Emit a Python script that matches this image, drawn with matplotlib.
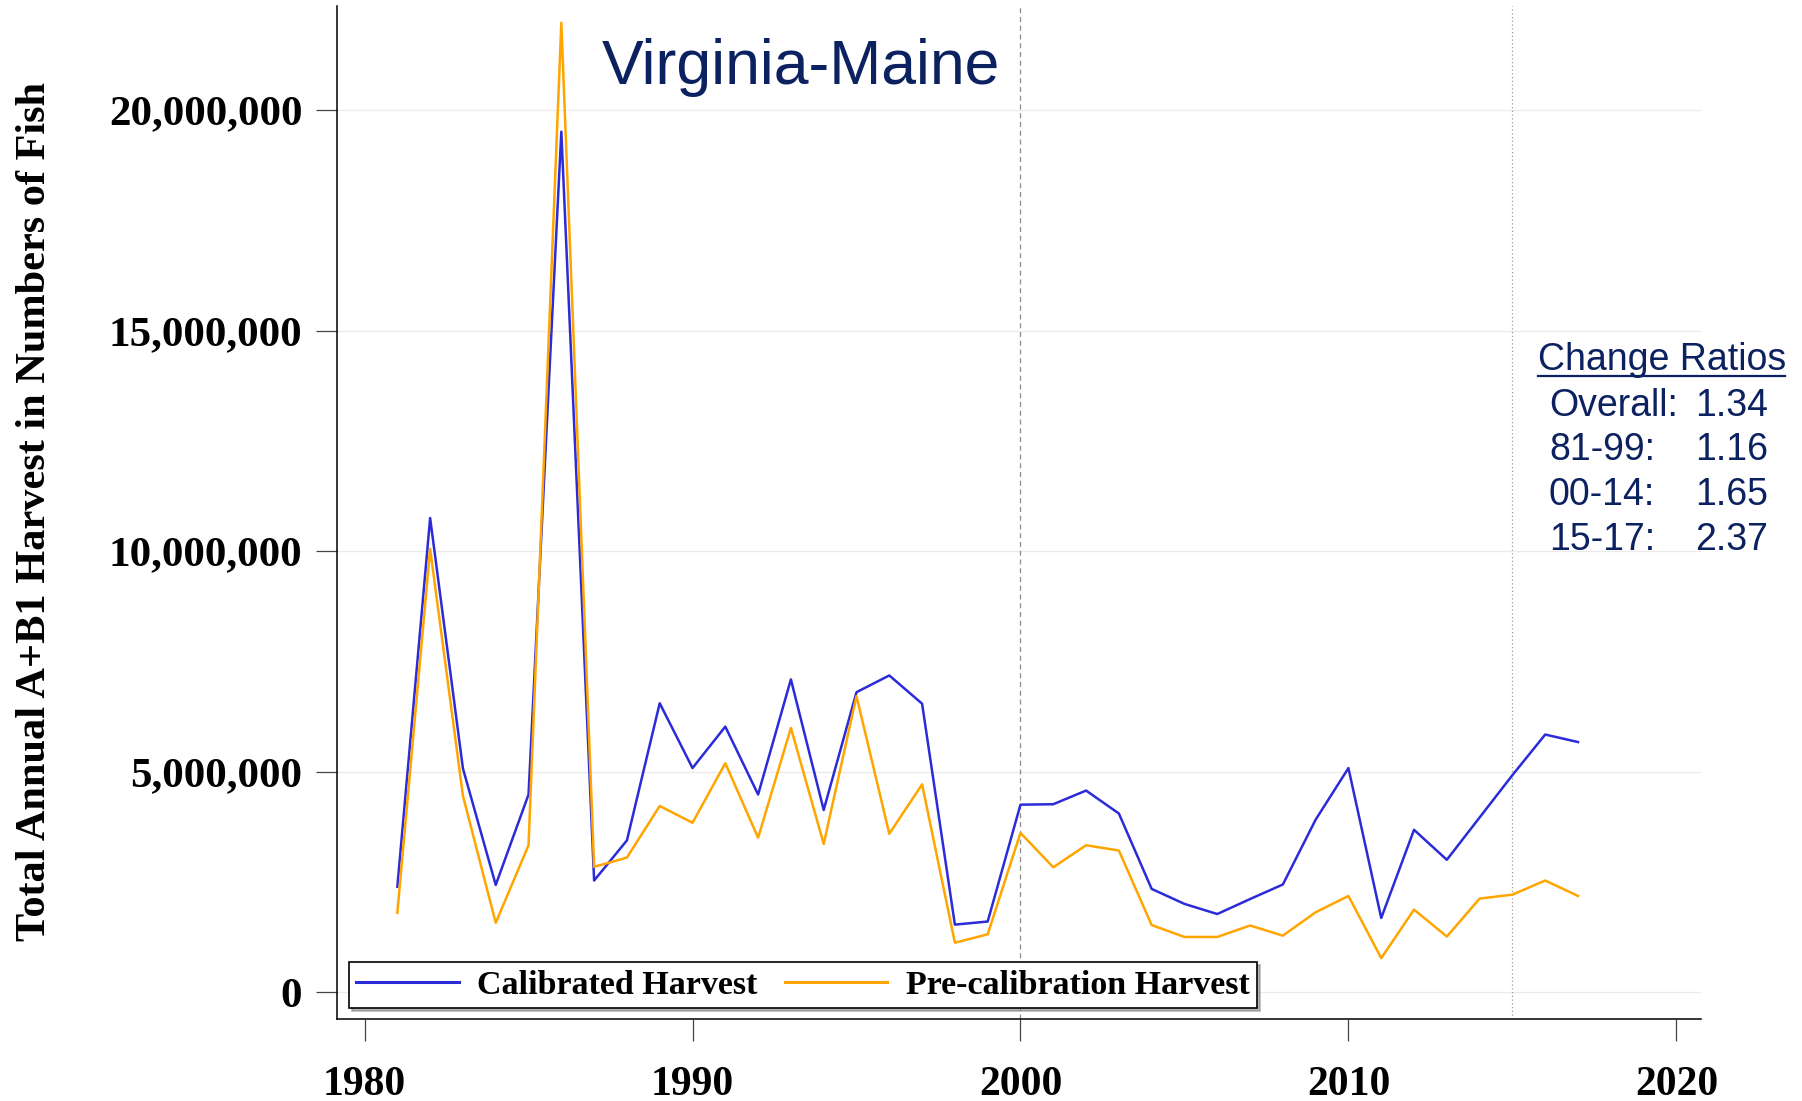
import numpy as np
import matplotlib
matplotlib.use("Agg")
import matplotlib.pyplot as plt
from matplotlib import font_manager
from matplotlib.ticker import FuncFormatter

# data (in millions of fish)
years = list(range(1981, 2018))
calibrated = [2.39, 10.75, 5.07, 2.43, 4.48, 19.51, 2.53, 3.44, 6.55, 5.08,
              6.02, 4.48, 7.09, 4.13, 6.80, 7.18, 6.54, 1.53, 1.60, 4.25,
              4.26, 4.57, 4.05, 2.34, 2.00, 1.77, 2.11, 2.44, 3.91, 5.08,
              1.68, 3.68, 3.00, 3.96, 4.92, 5.84, 5.67]
pre_calibration = [1.80, 10.05, 4.45, 1.57, 3.33, 21.98, 2.84, 3.05, 4.22, 3.84,
                   5.19, 3.50, 5.99, 3.36, 6.71, 3.59, 4.71, 1.12, 1.31, 3.61,
                   2.83, 3.33, 3.21, 1.52, 1.25, 1.25, 1.51, 1.28, 1.81, 2.18,
                   0.77, 1.87, 1.26, 2.12, 2.21, 2.53, 2.18]
series_names = ["Calibrated Harvest", "Pre-calibration Harvest"]
period_breaks = [2000, 2015]
ratio_labels = ["Overall:", "81-99:", "00-14:", "15-17:"]
ratio_values = ["1.34", "1.16", "1.65", "2.37"]
x_ticks = [1980, 1990, 2000, 2010, 2020]
y_ticks = [0, 5e6, 10e6, 15e6, 20e6]

navy = "#0b2160"
blue = "#2b2bd9"
orange = "#ffa500"
serif = ["Liberation Serif", "DejaVu Serif"]

# narrow sans for the region title if it is there
try:
    font_manager.findfont("Liberation Sans Narrow", fallback_to_default=False)
    title_font, title_size = "Liberation Sans Narrow", 52
except ValueError:
    title_font, title_size = "Liberation Sans", 45

W, H = 1802, 1101
fig = plt.figure(figsize=(W / 100, H / 100), dpi=100)
ax = fig.add_axes([337 / W, 1 - 1019 / H, (1701 - 337) / W, (1019 - 6) / H])

cal = np.array(calibrated) * 1e6
pre = np.array(pre_calibration) * 1e6

ax.plot(years, cal, color=blue, lw=1.8, label=series_names[0], zorder=3)
ax.plot(years, pre, color=orange, lw=1.8, label=series_names[1], zorder=3)

ax.axvline(period_breaks[0], color="#8c8c8c", lw=0.9, ls=(0, (4, 3)), zorder=2)
ax.axvline(period_breaks[1], color="#9a9a9a", lw=0.9, ls=(0, (1, 2)), zorder=2)

ax.set_xlim(1979.16, 2020.75)
ax.set_ylim(-0.61e6, 22.36e6)
ax.set_xticks(x_ticks)
ax.set_yticks(y_ticks)
ax.yaxis.set_major_formatter(FuncFormatter(lambda v, p: f"{int(v):,}"))
ax.grid(axis="y", color="#ebebeb", lw=1.0, zorder=0)

for s in ["top", "right"]:
    ax.spines[s].set_visible(False)
for s in ["left", "bottom"]:
    ax.spines[s].set_color("black")
    ax.spines[s].set_linewidth(1.1)

ax.tick_params(axis="x", length=16, width=0.9, color="#444444", pad=18)
ax.tick_params(axis="y", length=15, width=0.9, color="#444444", pad=10)
for lab in ax.get_xticklabels():
    lab.set_family(serif)
    lab.set_fontweight("bold")
    lab.set_fontsize(30)
for lab in ax.get_yticklabels():
    lab.set_family(serif)
    lab.set_fontweight("bold")
    lab.set_fontsize(31)

fig.text(35 / W, 1 - 511 / H, "Total Annual A+B1 Harvest in Numbers of Fish",
         rotation=90, ha="center", va="center", family=serif,
         fontweight="bold", fontsize=30.5)

leg = ax.legend(loc="lower left", bbox_to_anchor=(12 / 1364, 11 / 1013),
                borderaxespad=0, ncol=2, frameon=True, fancybox=False,
                shadow={"color": "0.45"}, edgecolor="black",
                prop={"family": serif, "weight": "bold", "size": 24.5},
                handlelength=3.0, handletextpad=0.55, columnspacing=0.8,
                borderpad=0.22)
leg.get_frame().set_linewidth(1.2)
for line in leg.get_lines():
    line.set_linewidth(2.2)

# region title
fig.text(801 / W, 1 - 84 / H, "Virginia-Maine", ha="center", va="baseline",
         family=title_font, fontsize=title_size, color=navy)

# change ratios block
fig.text(1538 / W, 1 - 370 / H, "Change Ratios", ha="left", va="baseline",
         family="Liberation Sans", fontsize=27, color=navy)
fig.add_artist(plt.Line2D([1538 / W, 1785 / W], [1 - 376 / H, 1 - 376 / H],
                          color=navy, lw=1.6))
for i, (lab, val) in enumerate(zip(ratio_labels, ratio_values)):
    yb = 1 - (416 + 44.5 * i) / H
    fig.text(1549 / W, yb, lab, ha="left", va="baseline",
             family="Liberation Sans", fontsize=27, color=navy)
    fig.text(1768 / W, yb, val, ha="right", va="baseline",
             family="Liberation Sans", fontsize=27, color=navy)

fig.savefig("out.png", dpi=100)
